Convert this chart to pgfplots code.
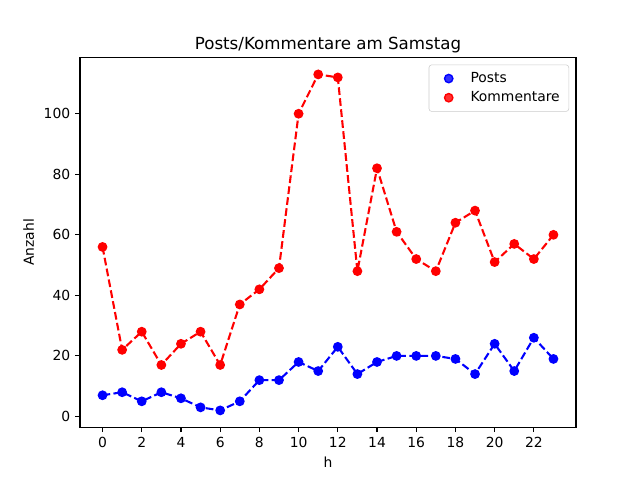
\documentclass[border=0pt]{standalone}
\usepackage{fontspec}
\setmainfont{DejaVu Sans}
\usepackage{pgfplots}
\pgfplotsset{compat=1.18}
\begin{document}
\begin{tikzpicture}
\useasboundingbox (-57.6pt,-38.016pt) rectangle (403.2pt,307.584pt);
\begin{axis}[
  at={(0,0)}, anchor=south west,
  scale only axis, width=357.12pt, height=266.112pt,
  xmin=-1.15, xmax=24.15, ymin=-3.55, ymax=118.55,
  xtick={0,2,...,22}, ytick={0,20,...,100},
  tick pos=left, tick align=outside,
  major tick length=3.5pt,
  tick style={black, line width=0.8pt},
  axis line style={line width=0.8pt},
  /pgf/number format/assume math mode=true,
  ticklabel style={font=\fontsize{10}{12}\selectfont},
  label style={font=\fontsize{10}{12}\selectfont},
  title style={font=\fontsize{12}{14}\selectfont, yshift=-6.3pt},
  title={Posts/Kommentare am Samstag},
  xlabel={h}, ylabel={Anzahl},
  legend cell align=left,
  legend style={at={(rel axis cs:1,1)}, xshift=-5pt, yshift=-5pt, anchor=north east,
    draw=black!20, rounded corners=2pt, fill=white, fill opacity=0.8, text opacity=1,
    font=\fontsize{10}{12}\selectfont, inner xsep=2.5pt, inner ysep=3.5pt, row sep=1pt,
    nodes={inner xsep=4pt}},
  legend image code/.code={\path (0pt,0pt) (23pt,0pt); \draw[mark repeat=2,mark phase=2,#1] plot coordinates {(0pt,0pt)(11.5pt,0pt)(23pt,0pt)};},
]
\addplot[blue, dashed, line width=1.5pt, dash pattern=on 5.55pt off 2.4pt, forget plot] coordinates {
(0,7)(1,8)(2,5)(3,8)(4,6)(5,3)(6,2)(7,5)(8,12)(9,12)(10,18)(11,15)(12,23)(13,14)(14,18)(15,20)(16,20)(17,20)(18,19)(19,14)(20,24)(21,15)(22,26)(23,19)};
\addplot[red, line width=1.5pt, dash pattern=on 5.55pt off 2.4pt, forget plot] coordinates {
(0,56)(1,22)(2,28)(3,17)(4,24)(5,28)(6,17)(7,37)(8,42)(9,49)(10,100)(11,113)(12,112)(13,48)(14,82)(15,61)(16,52)(17,48)(18,64)(19,68)(20,51)(21,57)(22,52)(23,60)};
\addplot[only marks, mark=*, mark size=3pt, blue, mark options={solid, line width=1pt}] coordinates {
(0,7)(1,8)(2,5)(3,8)(4,6)(5,3)(6,2)(7,5)(8,12)(9,12)(10,18)(11,15)(12,23)(13,14)(14,18)(15,20)(16,20)(17,20)(18,19)(19,14)(20,24)(21,15)(22,26)(23,19)};
\addlegendentry{Posts}
\addplot[only marks, mark=*, mark size=3pt, red, mark options={solid, line width=1pt}] coordinates {
(0,56)(1,22)(2,28)(3,17)(4,24)(5,28)(6,17)(7,37)(8,42)(9,49)(10,100)(11,113)(12,112)(13,48)(14,82)(15,61)(16,52)(17,48)(18,64)(19,68)(20,51)(21,57)(22,52)(23,60)};
\addlegendentry{Kommentare}
\end{axis}
\end{tikzpicture}
\end{document}
